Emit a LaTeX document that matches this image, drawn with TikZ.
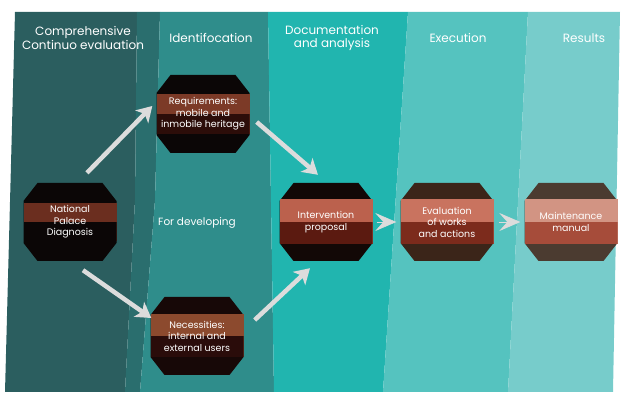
\documentclass[tikz,border=0pt]{standalone}
\usepackage{fontspec}
\setmainfont{Poppins}
\usetikzlibrary{arrows.meta, positioning, calc}

\definecolor{colA}{HTML}{2B5E5F}
\definecolor{colAB}{HTML}{2A6E6E}
\definecolor{colB}{HTML}{2F8D8B}
\definecolor{colC}{HTML}{21B5AF}
\definecolor{colD}{HTML}{55C3BF}
\definecolor{colE}{HTML}{77CCCB}
\definecolor{arrowgray}{HTML}{DCDCDC}
\definecolor{octA}{HTML}{0B0606}
\definecolor{topA}{HTML}{6B2E1F}
\definecolor{topB}{HTML}{7C3A27}
\definecolor{botB}{HTML}{2C0D09}
\definecolor{octC}{HTML}{170807}
\definecolor{topC}{HTML}{8C4A2E}
\definecolor{botC}{HTML}{2A0C0A}
\definecolor{octD}{HTML}{120806}
\definecolor{topD}{HTML}{BB614D}
\definecolor{botD}{HTML}{5B1A10}
\definecolor{octE}{HTML}{3B2519}
\definecolor{topE}{HTML}{C9735F}
\definecolor{botE}{HTML}{7C2B1C}
\definecolor{octF}{HTML}{4B3B30}
\definecolor{topF}{HTML}{D29483}
\definecolor{botF}{HTML}{A64C3A}

\begin{document}
\begin{tikzpicture}[x=1pt, y=-1pt,
    oct/.style={rectangle, minimum width=93pt, minimum height=78pt, inner sep=0pt,
        path picture={\fill[#1]
            ([xshift=14pt]path picture bounding box.north west) -- ([xshift=-14pt]path picture bounding box.north east)
            -- ([yshift=-18pt]path picture bounding box.north east) -- ([yshift=18pt]path picture bounding box.south east)
            -- ([xshift=-14pt]path picture bounding box.south east) -- ([xshift=14pt]path picture bounding box.south west)
            -- ([yshift=18pt]path picture bounding box.south west) -- ([yshift=-18pt]path picture bounding box.north west) -- cycle;}},
    band/.style 2 args={rectangle, fill=#1, minimum width=93pt, inner sep=0pt, align=center,
        text=white, font=\fontsize{9.5}{11.5}\selectfont,
        path picture={\fill[#2] (path picture bounding box.west) rectangle (path picture bounding box.south east);}},
    head/.style={text=white, align=center, font=\fontsize{12}{13.5}\selectfont},
    flow/.style={draw=arrowgray, line width=4.5pt, -{Stealth[length=15pt, width=18pt, inset=4pt]}},
    chev/.style={draw=arrowgray, line width=0.5pt, -{Stealth[length=21pt, width=18pt, inset=8pt]}}]

\useasboundingbox (0,0) rectangle (622,398);

% columns
\fill[colA] (15,12) -- (137,12) -- (135,200) -- (125,392) -- (5,392) -- cycle;
\fill[colAB] (137,12) -- (160,12) -- (155,200) -- (140,392) -- (125,392) -- (135,200) -- cycle;
\fill[colB] (160,12) -- (268,12) -- (274,392) -- (140,392) -- (155,200) -- cycle;
\fill[colC] (268,12) -- (408,12) -- (383,392) -- (274,392) -- cycle;
\fill[colD] (408,12) -- (528,12) -- (508,392) -- (383,392) -- cycle;
\fill[colE] (528,12) -- (620,12) -- (613,392) -- (508,392) -- cycle;

% headers
\node[head] (h-comp) at (83,38) {Comprehensive\\Continuo evaluation};
\node[head] (h-ident) at (211,38) {Identifocation};
\node[head] (h-doc) at (332,38) {Documentation\\and analysis};
\node[head] (h-exec) at (458,38) {Execution};
\node[head] (h-res) at (584,38) {Results};

% stages
\node[oct=octA] (npd) at (70,222) {};
\node[band={topA}{octA}, minimum height=38pt] (npd-txt) at (npd) {National\\Palace\\Diagnosis};

\node[oct=octA] (req) at (203,114) {};
\node[band={topB}{botB}, minimum height=40pt] (req-txt) at (req) {Requirements:\\mobile and\\inmobile heritage};

\node[oct=octC] (nec) at (197,336) {};
\node[band={topC}{botC}, minimum height=43pt] (nec-txt) at (nec) {Necessities:\\internal and\\external users};

\node[oct=octD] (int) at (326,222) {};
\node[band={topD}{botD}, minimum height=45pt] (int-txt) at (int) {Intervention\\proposal};

\node[oct=octE] (eval) at (447,222) {};
\node[band={topE}{botE}, minimum height=45pt] (eval-txt) at (eval) {Evaluation\\of works\\and actions};

\node[oct=octF] (maint) at (571,222) {};
\node[band={topF}{botF}, minimum height=45pt] (maint-txt) at (maint) {Maintenance\\manual};

\node[text=white, font=\fontsize{10.5}{12}\selectfont] (dev) at (197,223) {For developing};

% arrows
\draw[flow] ([xshift=17pt, yshift=10pt]npd.north) -- ([xshift=-4pt, yshift=8pt]req.west);
\draw[flow] ([xshift=13pt, yshift=-9pt]npd.south) -- ([xshift=1pt, yshift=18pt]nec.west);
\draw[flow] ([xshift=7pt, yshift=-8pt]req.east) -- ([xshift=-8pt, yshift=8pt]int.north);
\draw[flow] ([xshift=11pt, yshift=16pt]nec.east) -- ([xshift=-16pt, yshift=-7pt]int.south);
\draw[chev] ([xshift=4pt]int.east) -- ([xshift=-4pt]eval.west);
\draw[chev] ([xshift=5pt]eval.east) -- ([xshift=-4pt]maint.west);
\end{tikzpicture}
\end{document}
